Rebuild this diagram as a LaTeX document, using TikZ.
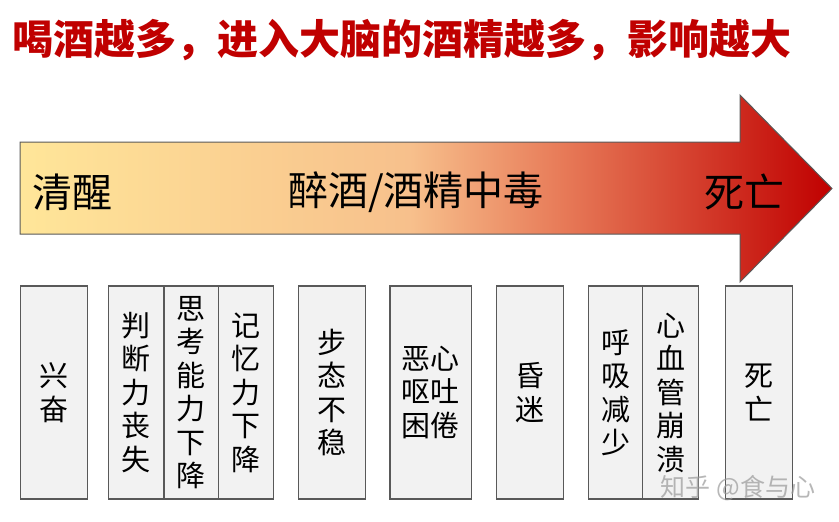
\documentclass[tikz,border=0pt]{standalone}
\usepackage{fontspec}
\usepackage{tikz}
\newfontfamily\cjk{Noto Sans CJK SC}
\definecolor{titlered}{HTML}{C00000}
\definecolor{boxgray}{HTML}{F2F2F2}
\definecolor{edgegray}{HTML}{595959}
\definecolor{paleyellow}{HTML}{FFE699}
\definecolor{peach}{HTML}{F7C08C}
\definecolor{coral}{HTML}{E87D5A}
\pgfdeclarehorizontalshading{drunkgrad}{100bp}{color(0bp)=(paleyellow); color(25bp)=(paleyellow); color(49bp)=(peach); color(58bp)=(coral); color(75bp)=(titlered); color(100bp)=(titlered)}
\tikzstyle{stagebox}=[draw=edgegray, line width=1.3pt, fill=boxgray, inner sep=0pt, minimum height=213pt, align=center, font=\cjk\fontsize{29}{33.5}\selectfont]
\tikzstyle{arrowlabel}=[font=\cjk\fontsize{40}{44}\selectfont]

\begin{document}
\begin{tikzpicture}[x=1pt, y=-1pt]
                    \fill[white] (0,0) rectangle (839,522);
                    \useasboundingbox (0,0) rectangle (839,522);
                    \node[text=titlered, font=\cjk\bfseries\fontsize{41}{44}\selectfont] (title) at (402, 40) {喝酒越多，进入大脑的酒精越多，影响越大};
                    \shade[shading=drunkgrad, draw=edgegray, line width=1pt]
                        (20,142) -- (740,142) -- (740,95) -- (832,188.5) -- (740,282) -- (740,234) -- (20,234) -- cycle;
                    \node[arrowlabel] (sober) at (72, 192) {清醒};
                    \node[arrowlabel] (drunk) at (416, 192) {醉酒/酒精中毒};
                    \node[arrowlabel] (dead) at (744, 192) {死亡};
                    \node[stagebox, minimum width=66.6pt] (s1) at (54, 392.5) {兴\\奋};
                    \node[stagebox, minimum width=55.7pt] (s2) at (136.2, 392.5) {判\\断\\力\\丧\\失};
                    \node[stagebox, minimum width=54.7pt] (s3) at (191.3, 392.5) {思\\考\\能\\力\\下\\降};
                    \node[stagebox, minimum width=54.6pt] (s4) at (246, 392.5) {记\\忆\\力\\下\\降};
                    \node[stagebox, minimum width=67.4pt] (s5) at (332, 392.5) {步\\态\\不\\稳};
                    \node[stagebox, minimum width=81.7pt] (s6) at (430.8, 392.5) {恶心\\呕吐\\困倦};
                    \node[stagebox, minimum width=66.6pt] (s7) at (530, 392.5) {昏\\迷};
                    \node[stagebox, minimum width=54.4pt] (s8) at (615.5, 392.5) {呼\\吸\\减\\少};
                    \node[stagebox, minimum width=55.6pt] (s9) at (670.5, 392.5) {心\\血\\管\\崩\\溃};
                    \node[stagebox, minimum width=66.6pt] (s10) at (759, 392.5) {死\\亡};
                    \node[text=black!40, opacity=0.7, font=\cjk\fontsize{25}{28}\selectfont] (mark) at (738, 488) {知乎 @食与心};
                \end{tikzpicture}
\end{document}
